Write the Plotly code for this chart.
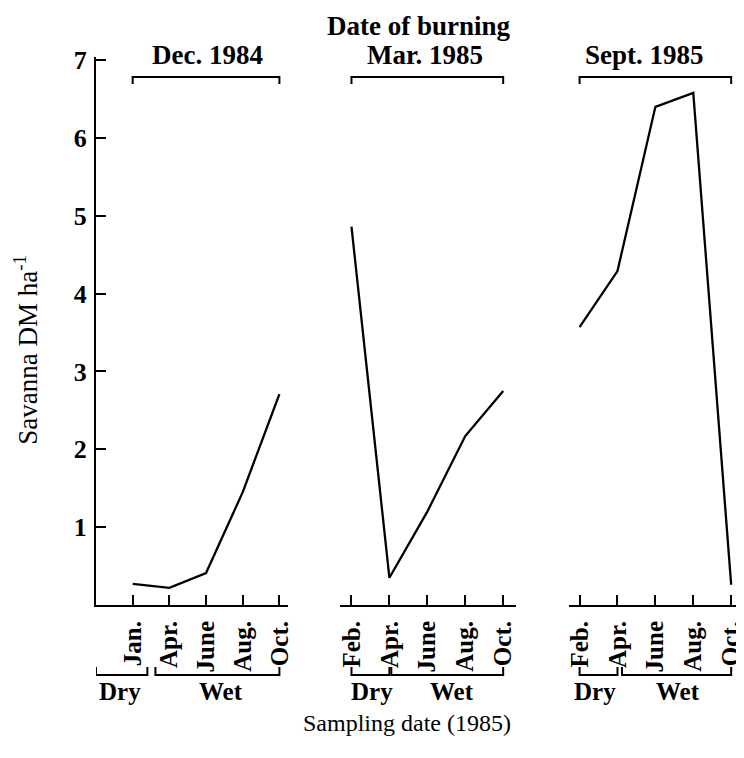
import plotly.graph_objects as go

# ---- data ----
dec_months = ["Jan.", "Apr.", "June", "Aug.", "Oct."]
mar_months = ["Feb.", "Apr.", "June", "Aug.", "Oct."]
sep_months = ["Feb.", "Apr.", "June", "Aug.", "Oct."]
dec_values = [0.27, 0.22, 0.41, 1.45, 2.71]
mar_values = [4.86, 0.35, 1.20, 2.17, 2.75]
sep_values = [3.57, 4.29, 6.40, 6.58, 0.26]
burn_labels = ["Dec. 1984", "Mar. 1985", "Sept. 1985"]
y_ticks = [1, 2, 3, 4, 5, 6, 7]

# page body has an 8px margin; work in reference pixel coords and shift
OFF = 8
W, H = 744 - OFF, 758 - OFF
L, R, T, B = 96 - OFF, 0, 57 - OFF, 758 - 605
PW, PH = W - L - R, H - T - B


def px(p):
    return (p - OFF - L) / PW


def py(p):
    return (H - B - (p - OFF)) / PH


FONT = "Liberation Serif"
tickfont = dict(family=FONT, size=25, color="black", weight="bold")

fig = go.Figure()
for i, (m, v) in enumerate([(dec_months, dec_values), (mar_months, mar_values), (sep_months, sep_values)]):
    fig.add_trace(go.Scatter(x=m, y=v, mode="lines", xaxis="x" if i == 0 else f"x{i+1}", yaxis="y",
                             line=dict(color="black", width=2.3), showlegend=False, hoverinfo="skip"))

xcommon = dict(type="category", anchor="y", showline=True, linewidth=2, linecolor="black",
               ticks="inside", ticklen=10, tickwidth=2, tickcolor="black", tickangle=-90,
               tickfont=tickfont, showgrid=False, zeroline=False, ticklabelstandoff=4)

fig.update_layout(
    width=W, height=H, autosize=False,
    margin=dict(l=L, r=R, t=T, b=B),
    plot_bgcolor="white", paper_bgcolor="white",
    font=dict(family=FONT, color="black"),
    xaxis=dict(domain=[px(96), px(290)], range=[-1.0, 4.24], **xcommon),
    xaxis2=dict(domain=[px(342), px(520)], range=[-0.31, 4.34], **xcommon),
    xaxis3=dict(domain=[px(573), 1.0], range=[-0.29, 4.18], **xcommon),
    yaxis=dict(domain=[0, 1], anchor="x", range=[0, 7.04], tickvals=y_ticks,
               showline=True, linewidth=2, linecolor="black", ticks="inside", ticklen=10,
               tickwidth=2, tickcolor="black", tickfont=dict(family=FONT, size=26, color="black", weight="bold"),
               showgrid=False, zeroline=False, ticklabelstandoff=2),
)

shapes = []
lw = dict(color="black", width=2)
# top brackets (date of burning)
for ax in ["x", "x2", "x3"]:
    y0, y1 = py(77), py(84)
    shapes.append(dict(type="path", xref=ax, yref="paper", line=lw,
                       path=f"M 0 {y1} L 0 {y0} L 4 {y0} L 4 {y1}"))
# bottom brackets (dry / wet)
yb, ye = py(675), py(667)
bottom = [("x", -1.0, 0.4, 0.62, 4.0), ("x2", 0.0, 1.0, 1.05, 4.0), ("x3", 0.0, 1.0, 1.12, 4.0)]
for ax, d0, d1, w0, w1 in bottom:
    shapes.append(dict(type="path", xref=ax, yref="paper", line=lw,
                       path=f"M {d0} {ye} L {d0} {yb} L {d1} {yb} L {d1} {ye}"))
    shapes.append(dict(type="path", xref=ax, yref="paper", line=lw,
                       path=f"M {w0} {ye} L {w0} {yb} L {w1} {yb} L {w1} {ye}"))
fig.update_layout(shapes=shapes)

ann = []
bold = dict(family=FONT, size=27, color="black", weight="bold")
ann.append(dict(text="Date of burning", x=px(422), y=py(26), xref="paper", yref="paper",
                showarrow=False, font=bold, xanchor="center", yanchor="middle"))
for lab, cx in zip(burn_labels, [209, 428, 650]):
    ann.append(dict(text=lab, x=px(cx), y=py(55), xref="paper", yref="paper",
                    showarrow=False, font=bold, xanchor="center", yanchor="middle"))
small_bold = dict(family=FONT, size=25, color="black", weight="bold")
for lab, cx in [("Dry", 120), ("Wet", 222), ("Dry", 375), ("Wet", 455), ("Dry", 600), ("Wet", 683)]:
    ann.append(dict(text=lab, x=px(cx), y=py(691), xref="paper", yref="paper",
                    showarrow=False, font=small_bold, xanchor="center", yanchor="middle"))
ann.append(dict(text="Sampling date (1985)", x=px(410), y=py(723), xref="paper", yref="paper",
                showarrow=False, font=dict(family=FONT, size=24, color="black"),
                xanchor="center", yanchor="middle"))
ann.append(dict(text="Savanna DM ha<sup>-1</sup>", x=px(25), y=py(350), xref="paper", yref="paper",
                showarrow=False, textangle=-90, font=dict(family=FONT, size=27, color="black"),
                xanchor="center", yanchor="middle"))
fig.update_layout(annotations=ann)

fig.write_html("out.html")
